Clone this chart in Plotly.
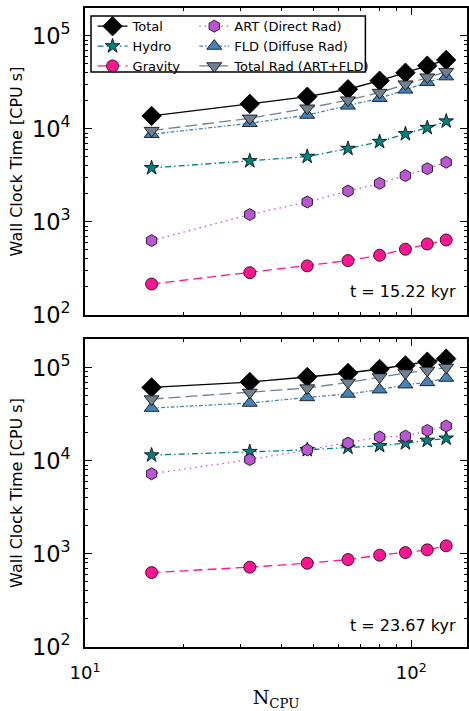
import plotly.graph_objects as go

n_cpu = [16, 32, 48, 64, 80, 96, 112, 128]

# panel 1: t = 15.22 kyr
total_a = [13800, 18600, 22200, 26700, 33000, 40200, 47900, 55200]
hydro_a = [3810, 4530, 5040, 6140, 7290, 8830, 10300, 12100]
gravity_a = [215, 285, 337, 384, 438, 509, 580, 640]
art_a = [630, 1200, 1640, 2150, 2600, 3150, 3740, 4380]
fld_a = [8770, 11500, 14100, 17700, 21400, 26300, 31800, 36500]
totrad_a = [9600, 13000, 16700, 20400, 24600, 30300, 36000, 41300]

# panel 2: t = 23.67 kyr
total_b = [61400, 70100, 79400, 87700, 96800, 105800, 116000, 125000]
hydro_b = [11500, 12500, 13100, 13900, 14500, 15500, 16500, 17400]
gravity_b = [630, 720, 794, 869, 969, 1033, 1105, 1220]
art_b = [7250, 10300, 13100, 15500, 18000, 18400, 21200, 23600]
fld_b = [36800, 41700, 47900, 52200, 58000, 65600, 69500, 77400]
totrad_b = [46000, 54200, 60400, 69500, 79400, 87700, 93500, 100700]

labels = ["Total", "Hydro", "Gravity", "ART (Direct Rad)", "FLD (Diffuse Rad)", "Total Rad (ART+FLD)"]
panel_times = ["t = 15.22 kyr", "t = 23.67 kyr"]
x_tickvals = [10, 100]
x_ticktext = ["10<sup>1</sup>", "10<sup>2</sup>"]

styles = [
    dict(color="black", symbol="diamond", size=15, dash="solid", legend="legend"),
    dict(color="#008080", symbol="star", size=11, dash="6px,3px,1.5px,3px", legend="legend"),
    dict(color="#FF1493", symbol="circle", size=12, dash="9px,5px", legend="legend"),
    dict(color="#BA55D3", symbol="hexagon", size=12, dash="1.5px,4px", legend="legend2"),
    dict(color="#4682B4", symbol="triangle-up", size=13, dash="4px,2px,1.5px,2px", legend="legend2"),
    dict(color="#708090", symbol="triangle-down", size=13, dash="12px,5px", legend="legend2"),
]

panels = [
    ([total_a, hydro_a, gravity_a, art_a, fld_a, totrad_a], "x", "y"),
    ([total_b, hydro_b, gravity_b, art_b, fld_b, totrad_b], "x2", "y2"),
]

fig = go.Figure()
for pi, (series, xa, ya) in enumerate(panels):
    for lab, vals, st in zip(labels, series, styles):
        fig.add_trace(go.Scatter(
            x=n_cpu, y=vals, name=lab, mode="lines+markers",
            xaxis=xa, yaxis=ya,
            line=dict(color=st["color"], width=1.3, dash=st["dash"]),
            marker=dict(symbol=st["symbol"], size=st["size"], color=st["color"],
                        line=dict(color="black", width=0.8)),
            showlegend=(pi == 0), legend=st["legend"],
        ))

ax_common = dict(
    type="log", showline=True, linecolor="black", linewidth=1.5, mirror="ticks",
    ticks="inside", ticklen=7, tickwidth=1, tickcolor="black",
    showgrid=False, zeroline=False, exponentformat="power", dtick=1,
    tickfont=dict(size=18, family="DejaVu Sans", color="black"),
    ticklabelstandoff=9,
    minor=dict(ticks="inside", ticklen=3.5, dtick="D1", showgrid=False, tickcolor="black", tickwidth=1),
)

ytitle = dict(text="Wall Clock Time [CPU s]", font=dict(size=16, family="DejaVu Sans", color="black"), standoff=5)

fig.update_layout(
    width=469, height=711,
    margin=dict(l=85, r=0, t=8, b=64),
    plot_bgcolor="white", paper_bgcolor="white",
    font=dict(family="DejaVu Sans", color="black"),
    xaxis=dict(ax_common, domain=[0, 1], anchor="y", range=[1, 2.171], showticklabels=False),
    xaxis2=dict(ax_common, domain=[0, 1], anchor="y2", range=[1, 2.171],
                tickmode="array", tickvals=x_tickvals, ticktext=x_ticktext,
                title=dict(text="N<sub>CPU</sub>", font=dict(size=19, family="DejaVu Serif", color="black"), standoff=8)),
    yaxis=dict(ax_common, domain=[0.5196, 1], anchor="x", range=[2, 5.30], title=ytitle),
    yaxis2=dict(ax_common, domain=[0, 0.482], anchor="x2", range=[2, 5.308], title=ytitle),
    legend=dict(x=0.0198, y=0.995, xanchor="left", yanchor="top", bgcolor="rgba(0,0,0,0)",
                font=dict(size=13, family="DejaVu Sans"), tracegroupgap=0, borderwidth=0),
    legend2=dict(x=0.286, y=0.995, xanchor="left", yanchor="top", bgcolor="rgba(0,0,0,0)",
                 font=dict(size=13, family="DejaVu Sans"), tracegroupgap=0, borderwidth=0),
    shapes=[dict(type="rect", xref="paper", yref="paper", x0=0.0157, x1=0.734, y0=0.8998, y1=0.9875,
                 line=dict(color="black", width=1.5), fillcolor="white", layer="above")],
    annotations=[
        dict(text=panel_times[0], xref="x domain", yref="y domain", x=0.977, y=0.078,
             xanchor="right", yanchor="middle", showarrow=False, font=dict(size=16, color="black")),
        dict(text=panel_times[1], xref="x2 domain", yref="y2 domain", x=0.977, y=0.071,
             xanchor="right", yanchor="middle", showarrow=False, font=dict(size=16, color="black")),
    ],
)

fig.write_html("out.html", config={"displayModeBar": False},
               post_script="document.body.style.margin='0px';")
